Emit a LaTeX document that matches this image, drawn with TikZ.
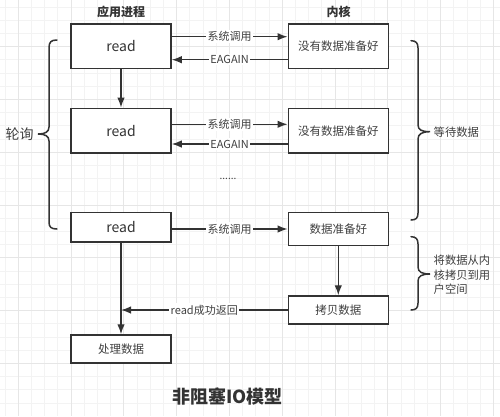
\documentclass[tikz,border=0pt]{standalone}
\usepackage{fontspec}
\setmainfont{Noto Sans CJK SC}
\usetikzlibrary{calc}
\usetikzlibrary{arrows.meta}

\definecolor{linegray}{HTML}{333333}
\definecolor{textgray}{HTML}{404040}
\definecolor{gridminor}{HTML}{F3F3F3}
\definecolor{gridmajor}{HTML}{E6E6E6}

\tikzset{
  box/.style={draw=linegray, line width=1.5pt, fill=white, minimum width=100pt,
    inner sep=0pt, text=textgray, font=\fontsize{11.5pt}{13pt}\selectfont},
  readbox/.style={box, text=linegray, font=\fontsize{14pt}{16pt}\selectfont},
  lbl/.style={fill=white, inner sep=1.5pt, text=textgray, font=\fontsize{11pt}{13pt}\selectfont},
  conn/.style={draw=linegray, line width=1.4pt, -{Latex[length=10pt,width=7.5pt]}},
  curly/.style={draw=linegray, line width=1.5pt, line cap=round},
}

\begin{document}
\begin{tikzpicture}[x=1pt,y=-1pt]
\useasboundingbox[fill=white] (0,0) rectangle (500,416);
% grid
\foreach \x in {5.1,18.3,...,495} \draw[gridminor,line width=1pt] (\x,0) -- (\x,416);
\foreach \y in {7,20.2,...,416} \draw[gridminor,line width=1pt] (0,\y) -- (500,\y);
\foreach \x in {18.3,71.1,...,495} \draw[gridmajor,line width=1pt] (\x,0) -- (\x,416);
\foreach \y in {46.6,99.4,...,416} \draw[gridmajor,line width=1pt] (0,\y) -- (500,\y);

\node[font=\bfseries\fontsize{12pt}{14pt}\selectfont,text=linegray](procHead) at (121,12){应用进程};
\node[font=\bfseries\fontsize{12pt}{14pt}\selectfont,text=linegray](kernHead) at (338.5,12){内核};

\node[readbox,minimum height=44.3pt](read1) at (121,46.2){read};
\node[readbox,minimum height=44.7pt](read2) at (121,130.7){read};
\node[readbox,minimum height=29.3pt](read3) at (121,227.3){read};
\node[box,minimum height=28pt](handle) at (121,349){处理数据};
\node[box,minimum height=44.3pt](kern1) at (338.3,46.2){没有数据准备好};
\node[box,minimum height=44.7pt](kern2) at (338.3,130.7){没有数据准备好};
\node[box,minimum height=32.6pt](ready) at (338.3,229){数据准备好};
\node[box,minimum height=28pt](copy) at (338.3,310){拷贝数据};
\node[text=textgray,font=\fontsize{10pt}{12pt}\selectfont](dots) at (228,179){......};

\path
($(read1.east)+(0,-9.5)$) edge[conn]node[lbl]{系统调用} ($(kern1.west)+(0,-9.5)$)
($(kern1.west)+(0,13.5)$) edge[conn]node[lbl]{EAGAIN} ($(read1.east)+(0,13.5)$)
($(read2.east)+(0,-6.4)$) edge[conn]node[lbl]{系统调用} ($(kern2.west)+(0,-6.4)$)
($(kern2.west)+(0,13.3)$) edge[conn]node[lbl]{EAGAIN} ($(read2.east)+(0,13.3)$)
(read3.east |- ready.west) edge[conn]node[lbl]{系统调用} (ready.west)
(copy.west) edge[conn]node[lbl]{read成功返回} (copy.west -| read3.south)
(read1) edge[conn]node{} (read2)
(read3) edge[conn]node{} (handle)
(ready) edge[conn]node{} (copy);

% braces
\draw[curly] (57,40) .. controls (51,40) and (49,42) .. (49,48) -- (49,127)
  .. controls (49,132) and (45,134) .. (38,134) .. controls (45,134) and (49,136) .. (49,141)
  -- (49,222) .. controls (49,227) and (51,229) .. (57,229);
\draw[curly] (411,40.7) .. controls (416,40.7) and (418,43) .. (418,48) -- (418,125)
  .. controls (418,130) and (422,131.7) .. (430,131.7) .. controls (422,131.7) and (418,134) .. (418,139)
  -- (418,213) .. controls (418,218) and (416,220) .. (411,220);
\draw[curly] (411,236.7) .. controls (416,236.7) and (418,239) .. (418,244) -- (418,267)
  .. controls (418,272) and (422,274) .. (430,274) .. controls (422,274) and (418,276) .. (418,281)
  -- (418,303) .. controls (418,308) and (416,310) .. (411,310);

\node[text=textgray,font=\fontsize{14pt}{16pt}\selectfont](poll) at (19.5,134.5){轮询};
\node[anchor=west,inner sep=0pt,text=textgray,font=\fontsize{11.3pt}{13pt}\selectfont](wait) at (433.5,132){等待数据};
\node[anchor=west,inner sep=0pt,align=left,text=textgray,font=\fontsize{11.3pt}{14.3pt}\selectfont](copyNote) at (433.5,275){将数据从内\\核拷贝到用\\户空间};

\node[font=\bfseries\fontsize{18pt}{20pt}\selectfont,text=linegray](title) at (227.7,396.5){非阻塞IO模型};
\end{tikzpicture}
\end{document}
